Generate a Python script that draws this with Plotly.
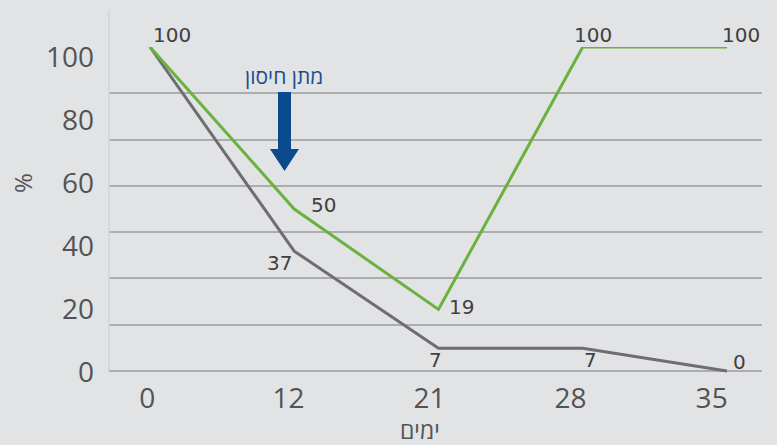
import plotly.graph_objects as go

# Days of follow-up and the two measured series (%)
days = ["0", "12", "21", "28", "35"]
green_vals = [100, 50, 19, 100, 100]
gray_vals = [100, 37, 7, 7, 0]
y_ticks = [0, 20, 40, 60, 80, 100]

W, H = 777, 445
L, R, T, B = 109, 762, 47, 375  # plot area in pixels
Y0 = 371                        # pixel row of the value 0 on the data scale

GREEN = "#6ab23e"
GRAY = "#6e6e70"
BG = "#e2e3e5"
GRID = "#acadaf"
TXT = "#535353"
LBL = "#404040"
BLUE = "#0b4a8c"

xi = list(range(len(days)))

fig = go.Figure()
fig.add_trace(go.Scatter(x=xi, y=gray_vals, mode="lines",
                         line=dict(color=GRAY, width=3), hoverinfo="skip"))
fig.add_trace(go.Scatter(x=xi, y=green_vals, mode="lines",
                         line=dict(color=GREEN, width=3), hoverinfo="skip"))
# carrier trace for the labelled axes
fig.add_trace(go.Scatter(x=[0], y=[0], xaxis="x2", yaxis="y2", mode="markers",
                         marker=dict(opacity=0), hoverinfo="skip"))

ppu = (Y0 - T) / 100.0  # pixels per percent on the data scale

fig.update_layout(
    width=W, height=H,
    margin=dict(l=L, r=W - R, t=T, b=H - B),
    paper_bgcolor=BG, plot_bgcolor=BG,
    showlegend=False,
    xaxis=dict(range=[-0.284, 4.243], showticklabels=False, showgrid=False,
               zeroline=False, showline=False, ticks=""),
    yaxis=dict(range=[-(B - Y0) / ppu, 100], tick0=0, dtick=100 / 7,
               showticklabels=False, showgrid=True, gridcolor=GRID,
               gridwidth=1.5, zeroline=False, ticks=""),
    xaxis2=dict(overlaying="x", anchor="y2", side="bottom",
                range=[-0.272, 4.357], tickmode="array", tickvals=xi,
                ticktext=days, showgrid=False, zeroline=False, showline=False,
                ticks="", ticklabelstandoff=4,
                tickfont=dict(family="Open Sans", size=28, color=TXT)),
    yaxis2=dict(overlaying="y", anchor="x2", side="left",
                range=[-0.79, 103.17], tickmode="array", tickvals=y_ticks,
                ticktext=[str(v) for v in y_ticks], showgrid=False,
                zeroline=False, showline=False, ticks="",
                ticklabelstandoff=14,
                tickfont=dict(family="Open Sans", size=28, color=TXT)),
)


def px_x(p):
    return (p - L) / (R - L)


def px_y(p):
    return (B - p) / (B - T)


# faint left frame line
fig.add_shape(type="line", xref="paper", yref="paper",
              x0=0, x1=0, y0=px_y(Y0), y1=px_y(10),
              line=dict(color="#d2d3d5", width=1.5))

# data labels
green_off = [(22, 12), (29, 4), (23, 2), (10, 12), (14, 12)]
gray_off = [None, (-15, -12), (-3, -12), (8, -12), (13, 9)]
for vals, offs in ((green_vals, green_off), (gray_vals, gray_off)):
    for i, v in enumerate(vals):
        if offs[i] is None:
            continue
        dx, dy = offs[i]
        fig.add_annotation(x=i, y=v, xref="x", yref="y", text=str(v),
                           showarrow=False, xshift=dx, yshift=dy,
                           xanchor="center", yanchor="middle",
                           font=dict(family="DejaVu Sans", size=20, color=LBL))

# vaccination arrow callout
ax0, ax1, hx0, hx1, tipx = 278, 291, 270, 299, 284.5
sy0, sy1, tipy = 92, 149, 171
pts = [(ax0, sy0), (ax1, sy0), (ax1, sy1), (hx1, sy1), (tipx, tipy),
       (hx0, sy1), (ax0, sy1)]
path = "M " + " L ".join(f"{px_x(a):.5f},{px_y(b):.5f}" for a, b in pts) + " Z"
fig.add_shape(type="path", xref="paper", yref="paper", path=path,
              fillcolor=BLUE, line=dict(width=0))
fig.add_annotation(x=px_x(284), y=px_y(75.5), xref="paper", yref="paper",
                   text="מתן חיסון", showarrow=False,
                   xanchor="center", yanchor="middle",
                   font=dict(family="Open Sans", size=21, color="#1b4f8e"))

# axis titles
fig.add_annotation(x=px_x(420), y=px_y(430), xref="paper", yref="paper",
                   text="ימים", showarrow=False,
                   xanchor="center", yanchor="middle",
                   font=dict(family="Open Sans", size=23, color=TXT))
fig.add_annotation(x=px_x(22), y=px_y(183), xref="paper", yref="paper",
                   text="%", textangle=-90, showarrow=False,
                   xanchor="center", yanchor="middle",
                   font=dict(family="Open Sans", size=24, color=TXT))

fig.write_html("out.html")
